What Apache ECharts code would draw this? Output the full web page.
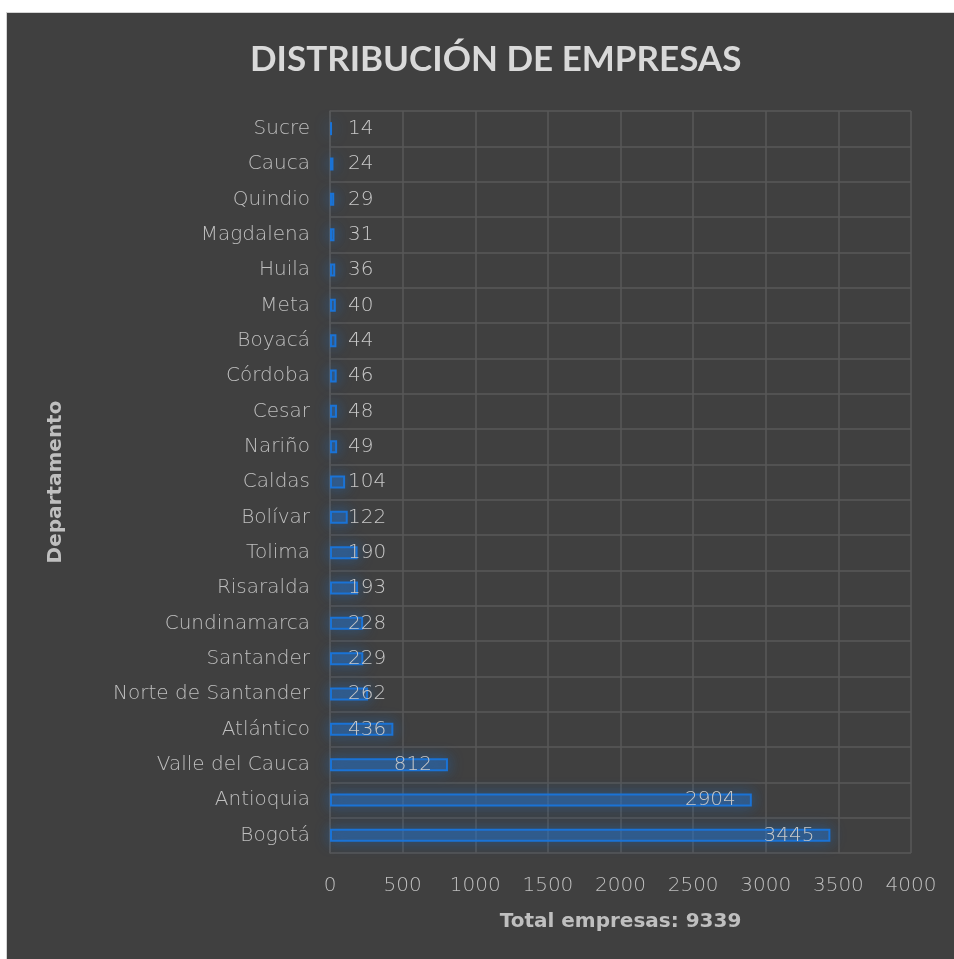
<!DOCTYPE html>
<html>
<head>
<meta charset="utf-8">
<script src="https://cdn.jsdelivr.net/npm/echarts@6/dist/echarts.min.js"></script>
<style>
html,body{margin:0;padding:0;background:#ffffff;width:954px;height:959px;overflow:hidden;}
#frame{position:absolute;left:6px;top:12px;width:948px;height:947px;background:#d4d4d4;}
#chart{position:absolute;left:7px;top:13px;width:947px;height:946px;}
</style>
</head>
<body>
<div id="frame"></div>
<div id="chart"></div>
<script>
const categories = ["Bogotá","Antioquia","Valle del Cauca","Atlántico","Norte de Santander","Santander","Cundinamarca","Risaralda","Tolima","Bolívar","Caldas","Nariño","Cesar","Córdoba","Boyacá","Meta","Huila","Magdalena","Quindio","Cauca","Sucre"];
const values = [3445,2904,812,436,262,229,228,193,190,122,104,49,48,46,44,40,36,31,29,24,14];
const xTicks = {min:0, max:4000, interval:500};
const titleText = "DISTRIBUCIÓN DE EMPRESAS";
const xName = "Total empresas: 9339";
const yName = "Departamento";

const FONT = "'DejaVu Sans'";
const chart = echarts.init(document.getElementById('chart'));
const data = values.map(v => (v >= 800
  ? {value: v, label: {position: 'insideRight', distance: 16}}
  : {value: v, label: {position: 'insideLeft', distance: 18}}));

chart.setOption({
  backgroundColor: '#404040',
  animation: false,
  title: {
    text: titleText, left: 238, top: 24,
    textStyle: {color: '#d9d9d9', fontFamily: 'Lato', fontWeight: 'bold', fontSize: 35}
  },
  grid: {left: 323, right: 43, top: 98, bottom: 106},
  xAxis: {
    type: 'value', min: xTicks.min, max: xTicks.max, interval: xTicks.interval,
    name: xName, nameLocation: 'middle', nameGap: 59,
    nameTextStyle: {color: '#bfbfbf', fontFamily: FONT, fontWeight: 'bold', fontSize: 20},
    axisLine: {show: false}, axisTick: {show: false},
    axisLabel: {color: '#bfbfbf', fontFamily: FONT, fontWeight: 200, fontSize: 20, margin: 23,
      formatter: v => String(v)},
    splitLine: {show: true, lineStyle: {color: '#595959', width: 1.5}}
  },
  yAxis: {
    type: 'category', data: categories,
    name: yName, nameLocation: 'middle', nameGap: 264, nameRotate: 90,
    nameTextStyle: {color: '#bfbfbf', fontFamily: FONT, fontWeight: 'bold', fontSize: 20},
    axisLine: {show: true, lineStyle: {color: '#595959', width: 1.5}},
    axisTick: {show: false},
    axisLabel: {color: '#bfbfbf', fontFamily: FONT, fontWeight: 200, fontSize: 20, margin: 20},
    splitLine: {show: true, lineStyle: {color: '#595959', width: 1.5}}
  },
  series: [{
    type: 'bar', data: data, barWidth: 13,
    itemStyle: {
      color: 'rgba(45,125,220,0.32)', borderColor: '#1a73d6', borderWidth: 2,
      shadowBlur: 14, shadowColor: 'rgba(25,115,215,0.8)'
    },
    label: {show: true, color: '#c8c8c8', fontFamily: FONT, fontWeight: 200, fontSize: 20}
  }]
});
</script>
</body>
</html>
